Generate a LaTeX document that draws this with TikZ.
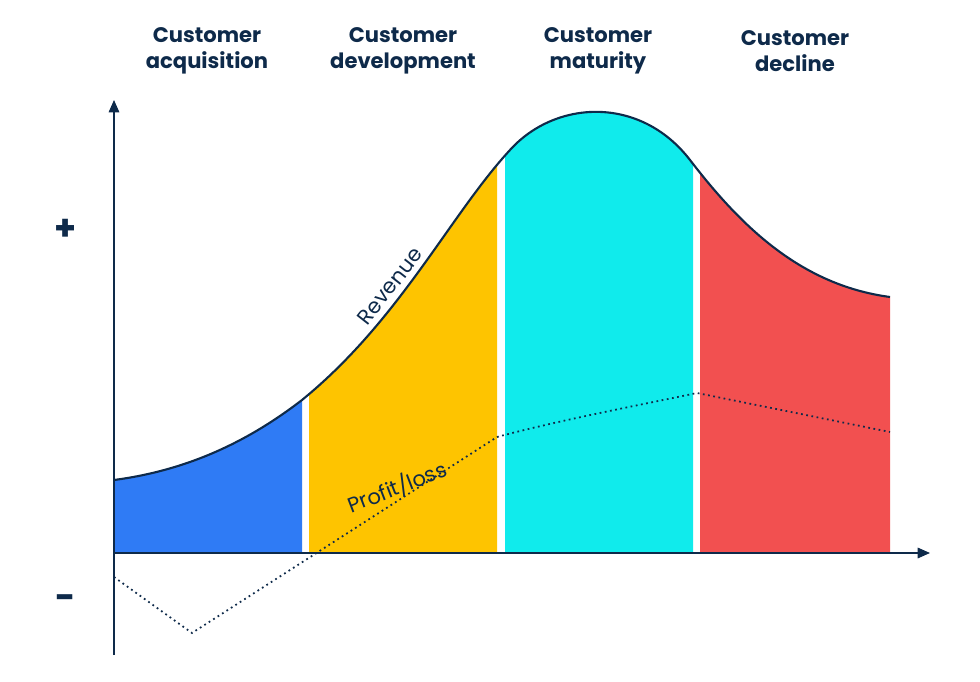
\documentclass[tikz,border=0pt]{standalone}
\usepackage{fontspec}
\setmainfont{Poppins}
\usetikzlibrary{arrows.meta}
\definecolor{navy}{HTML}{0E2A4A}
\definecolor{cblue}{HTML}{2F7BF5}
\definecolor{cyel}{HTML}{FEC400}
\definecolor{ccyan}{HTML}{10EBEC}
\definecolor{cred}{HTML}{F25050}
\tikzset{head/.style={text=navy,font=\fontsize{12}{14.5}\selectfont\bfseries,align=center},
 axis/.style={navy,line width=0.8pt,-{Triangle[length=7pt,width=6pt]}}}
\begin{document}
\begin{tikzpicture}[x=0.02cm,y=-0.02cm]
\useasboundingbox (0,0) rectangle (980,682);
\def\curve{(114,480) .. controls (190,470) and (250,440) .. (302,400) .. controls (400,320) and (450,215) .. (510,150) .. controls (555,100) and (640,95) .. (690,160) .. controls (740,225) and (800,285) .. (890,297)}
\foreach \a/\b/\c in {114/302/cblue,309/497/cyel,505/693/ccyan,700/890/cred}{
 \begin{scope}
 \clip (\a,0) rectangle (\b,553);
 \fill[\c] \curve -- (890,553) -- (114,553) -- cycle;
 \end{scope}}
\draw[navy,line width=1.2pt] \curve;
\draw[navy,line width=1pt,dotted] (114,577) -- (192,633) -- (497,437) .. controls (560,420) and (640,405) .. (697,393) -- (890,432);
\node[coordinate] (o1) at (114,655) {};
\node[coordinate] (o2) at (114,100) {};
\node[coordinate] (x1) at (114,553) {};
\node[coordinate] (x2) at (930,553) {};
\draw[axis] (o1) -- (o2);
\draw[axis] (x1) -- (x2);
\node[head] (h1) at (207,51) {Customer\\acquisition};
\node[head] (h2) at (403,51) {Customer\\development};
\node[head] (h3) at (598,51) {Customer\\maturity};
\node[head] (h4) at (795,51) {Customer\\decline};
\node[text=navy,font=\fontsize{20}{20}\selectfont\bfseries] (p) at (66,230) {+};
\node[text=navy,font=\fontsize{20}{20}\selectfont\bfseries] (m) at (66,602) {-};
\node[text=navy,font=\fontsize{12}{14}\selectfont,rotate=52] (rev) at (390,286) {Revenue};
\node[text=navy,font=\fontsize{12}{14}\selectfont,rotate=21] (pl) at (397,487) {Profit/loss};
\end{tikzpicture}
\end{document}
